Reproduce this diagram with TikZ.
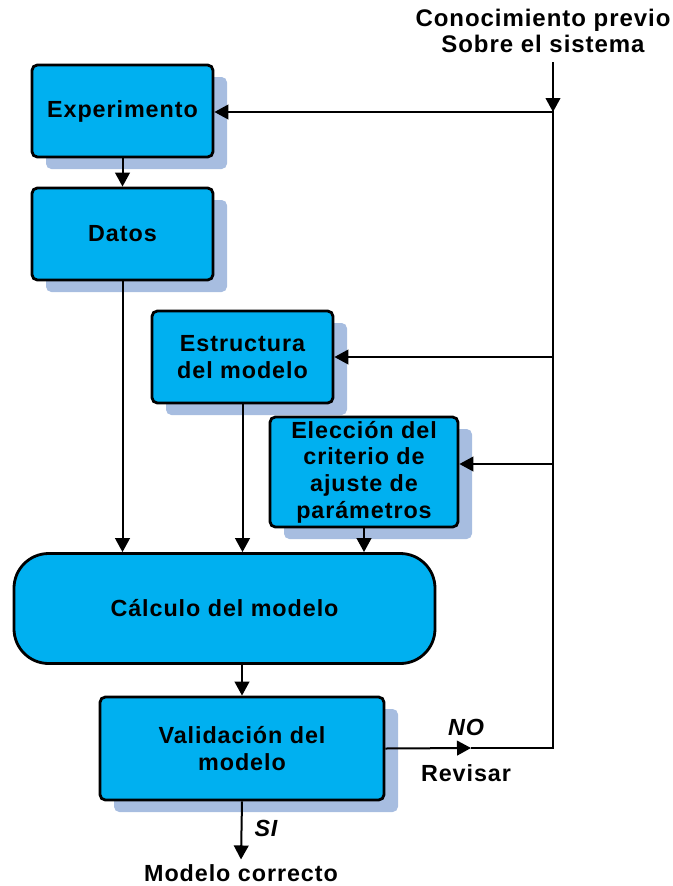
\documentclass[tikz,border=0pt]{standalone}
\usepackage{fontspec}
\setmainfont{Liberation Sans}[LetterSpace=4]
\usetikzlibrary{positioning,arrows.meta,shadows}
\definecolor{boxblue}{HTML}{00B0F0}
\definecolor{shadowblue}{HTML}{A7BDE0}

\begin{document}
\begin{tikzpicture}[x=0.75pt, y=-0.75pt, thick,
every node/.style={font=\bfseries\fontsize{17.5}{20}\selectfont},
main node/.style={rectangle, rounded corners=4pt, draw, line width=2.1pt, fill=boxblue, align=center,
  general shadow={draw=none, fill=shadowblue, rounded corners=4pt, shadow xshift=10.5pt, shadow yshift=-9pt}},
calc node/.style={rectangle, rounded corners=26pt, draw, line width=2.1pt, fill=boxblue, align=center},
link/.style={line width=1.5pt, -{Triangle[length=10.5pt,width=11pt]}}]

\useasboundingbox (0,0) rectangle (673,886);

\node[main node, minimum width=135.75pt, minimum height=69pt] (exp) at (122.5,111) {Experimento};
\node[main node, minimum width=135.75pt, minimum height=69pt] (dat) at (122.5,234) {Datos};
\node[main node, minimum width=135.75pt, minimum height=69pt] (est) at (242.5,357) {Estructura\\del modelo};
\node[main node, minimum width=141pt, minimum height=82.5pt, inner sep=1pt] (elec) at (364,472) {Elección del\\criterio de\\ajuste de\\parámetros};
\node[calc node, minimum width=315.75pt, minimum height=82.5pt] (calc) at (224.5,608.5) {Cálculo del modelo};
\node[main node, minimum width=213pt, minimum height=77.25pt] (val) at (242,748.5) {Validación del\\modelo};

\node[align=center, font=\bfseries\fontsize{18}{19.5}\selectfont] (know) at (543,31) {Conocimiento previo\\Sobre el sistema};
\node (out) at (241,873) {Modelo correcto};
\node[font=\bfseries\itshape\fontsize{17.5}{20}\selectfont] (no) at (466,727) {NO};
\node (rev) at (466,773) {Revisar};
\node[font=\bfseries\itshape\fontsize{17.5}{20}\selectfont] (si) at (266,828) {SI};

% feedback line
\coordinate (kin) at (553,62);
\coordinate (j1) at (553,112);
\coordinate (j2) at (553,357);
\coordinate (j3) at (553,464);
\coordinate (corner) at (553,748);
\coordinate (nomid) at (471,748);

\draw[line width=1.5pt] (kin) -- (corner) -- (nomid);
\draw[link] (kin) -- (j1);
\draw[link] (val.east) -- (nomid);
\draw[link] (j1) -- (j1 -| exp.east);
\draw[link] (j2) -- (j2 -| est.east);
\draw[link] (j3) -- (j3 -| elec.east);

% main flow
\draw[link] (exp) -- (dat);
\draw[link] (dat.south) -- (dat.south |- calc.north);
\draw[link] (est.south) -- (est.south |- calc.north);
\draw[link] (elec.south) -- (elec.south |- calc.north);
\draw[link] (calc.south -| val.north) -- (val.north);
\draw[link] (val.south) -- (out.north);
\end{tikzpicture}
\end{document}
